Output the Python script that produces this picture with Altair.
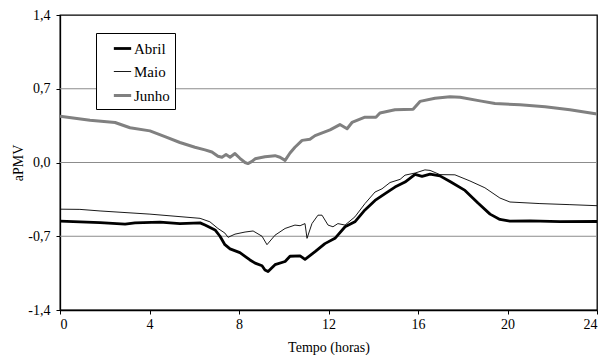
import altair as alt
import pandas as pd

series = ["Abril", "Maio", "Junho"]
colors = ["#000000", "#000000", "#808080"]
widths = [2.8, 0.9, 3.0]

abril_h = [0.00, 1.79, 2.91, 3.35, 4.47, 5.36, 6.26, 6.48, 6.93, 7.15, 7.37, 7.60, 8.04, 8.27,
           8.49, 8.72, 9.03, 9.16, 9.30, 9.61, 10.06, 10.28, 10.73, 10.95, 11.40, 11.84, 12.29,
           12.74, 13.18, 13.63, 14.08, 14.53, 14.97, 15.42, 15.87, 16.18, 16.54, 16.98, 17.43,
           18.10, 18.68, 19.22, 19.66, 20.11, 21.01, 22.35, 24.00]
abril_v = [-0.557, -0.570, -0.585, -0.573, -0.565, -0.580, -0.573, -0.594, -0.640, -0.700, -0.780,
           -0.820, -0.855, -0.890, -0.925, -0.955, -0.980, -1.020, -1.035, -0.970, -0.940, -0.890,
           -0.887, -0.920, -0.846, -0.770, -0.720, -0.610, -0.563, -0.450, -0.360, -0.295, -0.233,
           -0.186, -0.113, -0.132, -0.110, -0.127, -0.180, -0.265, -0.385, -0.490, -0.540, -0.557,
           -0.555, -0.562, -0.560]

maio_h = [0.00, 0.89, 1.79, 4.02, 6.26, 6.70, 7.06, 7.37, 7.51, 7.82, 8.27, 8.63, 9.03, 9.25,
          9.61, 10.06, 10.50, 10.73, 10.95, 11.04, 11.26, 11.53, 11.71, 11.98, 12.20, 12.42,
          12.74, 13.18, 13.63, 14.08, 14.39, 14.75, 15.20, 15.42, 15.87, 16.31, 16.54, 16.98,
          17.65, 18.32, 18.99, 19.66, 20.11, 21.45, 22.79, 24.00]
maio_v = [-0.443, -0.445, -0.460, -0.490, -0.530, -0.563, -0.626, -0.670, -0.710, -0.680, -0.660,
          -0.650, -0.700, -0.780, -0.690, -0.626, -0.594, -0.600, -0.580, -0.720, -0.580, -0.500,
          -0.500, -0.594, -0.610, -0.580, -0.594, -0.516, -0.390, -0.280, -0.250, -0.190, -0.160,
          -0.120, -0.100, -0.070, -0.075, -0.115, -0.117, -0.175, -0.240, -0.337, -0.375, -0.390,
          -0.400, -0.410]

junho_h = [0.00, 1.34, 2.46, 3.13, 4.02, 4.69, 5.36, 6.03, 6.48, 6.79, 7.06, 7.24, 7.42, 7.60,
           7.82, 8.04, 8.27, 8.40, 8.58, 8.72, 9.16, 9.39, 9.61, 9.83, 10.06, 10.28, 10.50, 10.82,
           11.17, 11.40, 12.07, 12.51, 12.83, 13.05, 13.63, 14.12, 14.30, 14.97, 15.78, 16.09,
           16.76, 17.43, 17.88, 18.77, 19.44, 20.56, 21.68, 22.79, 24.00]
junho_v = [0.440, 0.400, 0.380, 0.330, 0.300, 0.245, 0.190, 0.145, 0.120, 0.100, 0.060, 0.050,
           0.075, 0.050, 0.085, 0.040, 0.000, -0.010, 0.010, 0.035, 0.055, 0.060, 0.065, 0.050,
           0.020, 0.090, 0.145, 0.210, 0.220, 0.255, 0.310, 0.360, 0.320, 0.380, 0.430, 0.430,
           0.470, 0.500, 0.505, 0.580, 0.610, 0.625, 0.620, 0.585, 0.560, 0.547, 0.530, 0.500,
           0.460]

grid_values = [-0.7, 0.0, 0.7]
x_ticks = [0, 4, 8, 12, 16, 20, 24]
y_ticks = [-1.4, -0.7, 0.0, 0.7, 1.4]

rows = []
for name, hs, vs in [("Abril", abril_h, abril_v), ("Maio", maio_h, maio_v), ("Junho", junho_h, junho_v)]:
    for h, v in zip(hs, vs):
        rows.append({"serie": name, "hora": h, "aPMV": v})
df = pd.DataFrame(rows)
grid_df = pd.DataFrame({"g": grid_values})

FONT = "Liberation Serif"
ylab = "replace(replace(format(datum.value, '.1f'), '.', ','), '\u2212', '-')"

x_enc = alt.X("hora:Q", scale=alt.Scale(domain=[0, 24], nice=False),
              axis=alt.Axis(values=x_ticks, format="d", title="Tempo (horas)", grid=False,
                            tickSize=4, labelPadding=3, titlePadding=9))
y_enc = alt.Y("aPMV:Q", scale=alt.Scale(domain=[-1.4, 1.4], nice=False, zero=False),
              axis=alt.Axis(values=y_ticks, labelExpr=ylab, title="aPMV", grid=False,
                            tickSize=4, labelPadding=6, titlePadding=2))

leg = alt.Legend(title=None, orient="none", legendX=36, legendY=18, fillColor="white",
                 strokeColor="black", padding=5, rowPadding=5, symbolType="stroke",
                 symbolSize=300, symbolOffset=11, labelFont=FONT, labelFontSize=15,
                 labelColor="black", labelOffset=1, labelLimit=200)

grid = alt.Chart(grid_df).mark_rule(color="#8c8c8c", strokeWidth=1).encode(
    y=alt.Y("g:Q", scale=alt.Scale(domain=[-1.4, 1.4], nice=False, zero=False)))

lines = alt.Chart(df).mark_line(strokeJoin="round").encode(
    x=x_enc, y=y_enc,
    color=alt.Color("serie:N", scale=alt.Scale(domain=series, range=colors), legend=leg),
    strokeWidth=alt.StrokeWidth("serie:N",
                                scale=alt.Scale(type="ordinal", domain=series, range=widths),
                                legend=leg),
    detail="serie:N",
)

chart = alt.layer(grid, lines).properties(
    width=537, height=295,
    autosize=alt.AutoSizeParams(type="none"),
    padding={"left": 52, "top": 7, "right": 3, "bottom": 45},
    background="white",
).configure_view(stroke="black", strokeWidth=1.3).configure_axis(
    domainColor="black", domainWidth=1.3, tickColor="black", labelColor="black",
    titleColor="black", labelFont=FONT, titleFont=FONT, labelFontSize=14,
    titleFontSize=14, titleFontWeight="normal",
)

chart.save("out.html", embed_options={"renderer": "svg", "actions": False})
